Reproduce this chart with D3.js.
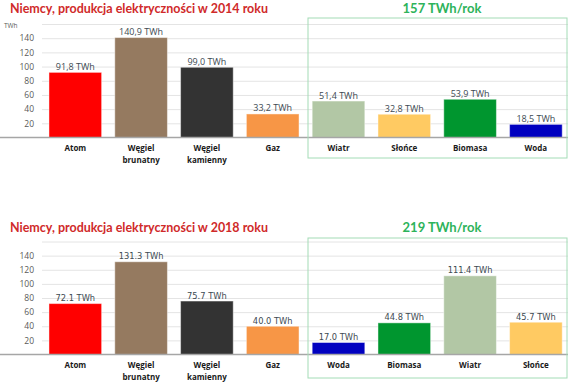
<!DOCTYPE html>
<html><head><meta charset="utf-8">
<script src="https://cdn.jsdelivr.net/npm/d3@7"></script>
<style>
html,body{margin:0;padding:0;background:#fff;}
svg{display:block;}
</style></head>
<body>
<svg id="chart" width="570" height="386"></svg>
<script>
// ---- data ----
const titles = ["Niemcy, produkcja elektryczności w 2014 roku", "Niemcy, produkcja elektryczności w 2018 roku"];
const renewTotals = ["157 TWh/rok", "219 TWh/rok"];
const categories2014 = ["Atom", "Węgiel brunatny", "Węgiel kamienny", "Gaz", "Wiatr", "Słońce", "Biomasa", "Woda"];
const values2014 = [91.8, 140.9, 99.0, 33.2, 51.4, 32.8, 53.9, 18.5];
const categories2018 = ["Atom", "Węgiel brunatny", "Węgiel kamienny", "Gaz", "Woda", "Biomasa", "Wiatr", "Słońce"];
const values2018 = [72.1, 131.3, 75.7, 40.0, 17.0, 44.8, 111.4, 45.7];
const tickValues = [20, 40, 60, 80, 100, 120, 140];
const gridValues = [20, 40, 60, 80, 100, 120, 140, 160];
const unitLabel = "TWh";

const colorMap = {
  "Atom": "#ff0000",
  "Węgiel brunatny": "#957a60",
  "Węgiel kamienny": "#333333",
  "Gaz": "#f79646",
  "Wiatr": "#b2c7a5",
  "Słońce": "#ffca62",
  "Biomasa": "#00962f",
  "Woda": "#0000c0"
};

const svg = d3.select("#chart");

const x = d3.scaleBand().range([42.4, 568.8]).paddingInner(0.2).paddingOuter(0.1);

function drawPanel(cfg) {
  const g = svg.append("g");
  const y = d3.scaleLinear().domain([0, 160]).range([cfg.y0, cfg.y160]);
  x.domain(cfg.categories);

  // gridlines
  g.append("g")
    .attr("transform", "translate(42,0)")
    .call(d3.axisLeft(y).tickValues(gridValues).tickSize(-526).tickFormat(""))
    .call(s => s.select(".domain").remove())
    .call(s => s.selectAll("line").attr("stroke", "#e4e4e4").attr("stroke-width", 1));

  // tick labels
  g.append("g")
    .attr("transform", "translate(34,0)")
    .call(d3.axisLeft(y).tickValues(tickValues).tickSize(0).tickPadding(0))
    .call(s => s.select(".domain").remove())
    .call(s => s.selectAll("text").attr("fill", "#595959")
      .style("font-family", "'Open Sans', sans-serif").style("font-size", "8.5px"));

  if (cfg.showUnit) {
    g.append("text").attr("x", 4).attr("y", cfg.y160 + 4)
      .text(unitLabel).attr("fill", "#595959")
      .style("font-family", "'Open Sans', sans-serif").style("font-size", "6.5px");
  }

  // bars
  g.selectAll("rect.bar").data(cfg.categories.map((c, i) => ({c, v: cfg.values[i]})))
    .join("rect").attr("class", "bar")
    .attr("x", d => x(d.c)).attr("width", x.bandwidth())
    .attr("y", d => y(d.v)).attr("height", d => y(0) - y(d.v))
    .attr("fill", d => colorMap[d.c])
    .attr("stroke", "rgba(255,255,255,0.45)").attr("stroke-width", 1);

  // value labels
  g.selectAll("text.val").data(cfg.categories.map((c, i) => ({c, v: cfg.values[i]})))
    .join("text").attr("class", "val")
    .attr("x", d => x(d.c) + x.bandwidth() / 2)
    .attr("y", d => y(d.v) - 2.5)
    .attr("text-anchor", "middle")
    .attr("fill", "#3d4a52")
    .style("font-family", cfg.valFont).style("font-size", cfg.valSize)
    .text(d => cfg.fmt(d.v) + " TWh");

  // baseline
  g.append("line").attr("x1", 0).attr("x2", 568)
    .attr("y1", y(0)).attr("y2", y(0))
    .attr("stroke", "#a6a6a6").attr("stroke-width", 1.5);

  // category labels
  const cl = g.selectAll("text.cat").data(cfg.categories).join("text").attr("class", "cat")
    .attr("x", d => x(d) + x.bandwidth() / 2)
    .attr("y", y(0) + 13.5)
    .attr("text-anchor", "middle")
    .attr("fill", "#1a1a1a")
    .style("font-family", "'Open Sans', sans-serif").style("font-size", "8px").style("font-weight", "bold");
  cl.each(function(d) {
    const parts = d.split(" ");
    const t = d3.select(this);
    parts.forEach((p, i) => {
      t.append("tspan").attr("x", x(d) + x.bandwidth() / 2).attr("dy", i === 0 ? 0 : 11.5).text(p);
    });
  });

  // title
  g.append("text").attr("x", 10).attr("y", cfg.titleY)
    .text(cfg.title).attr("fill", "#d02a2a")
    .attr("textLength", 258).attr("lengthAdjust", "spacingAndGlyphs")
    .style("font-family", "Lato, sans-serif").style("font-size", "13.5px").style("font-weight", "bold");

  // renewables box
  g.append("rect").attr("x", 308).attr("y", cfg.boxTop)
    .attr("width", 259).attr("height", cfg.boxBottom - cfg.boxTop)
    .attr("fill", "none").attr("stroke", "#a3dcb6").attr("stroke-width", 1);
  g.append("text").attr("x", 442).attr("y", cfg.titleY - 0.5)
    .attr("text-anchor", "middle").text(cfg.total).attr("fill", "#2db35a")
    .style("font-family", "Lato, sans-serif").style("font-size", "13px").style("font-weight", "bold");
}

drawPanel({
  categories: categories2014, values: values2014, title: titles[0], total: renewTotals[0],
  y0: 137.5, y160: 24, titleY: 13, boxTop: 18, boxBottom: 158, showUnit: true,
  fmt: v => d3.format(".1f")(v).replace(".", ","),
  valFont: "'Open Sans', sans-serif", valSize: "9px"
});
drawPanel({
  categories: categories2018, values: values2018, title: titles[1], total: renewTotals[1],
  y0: 354.5, y160: 241.5, titleY: 232, boxTop: 238, boxBottom: 378, showUnit: false,
  fmt: v => d3.format(".1f")(v),
  valFont: "'DejaVu Sans', sans-serif", valSize: "8.3px"
});
</script>
</body></html>
